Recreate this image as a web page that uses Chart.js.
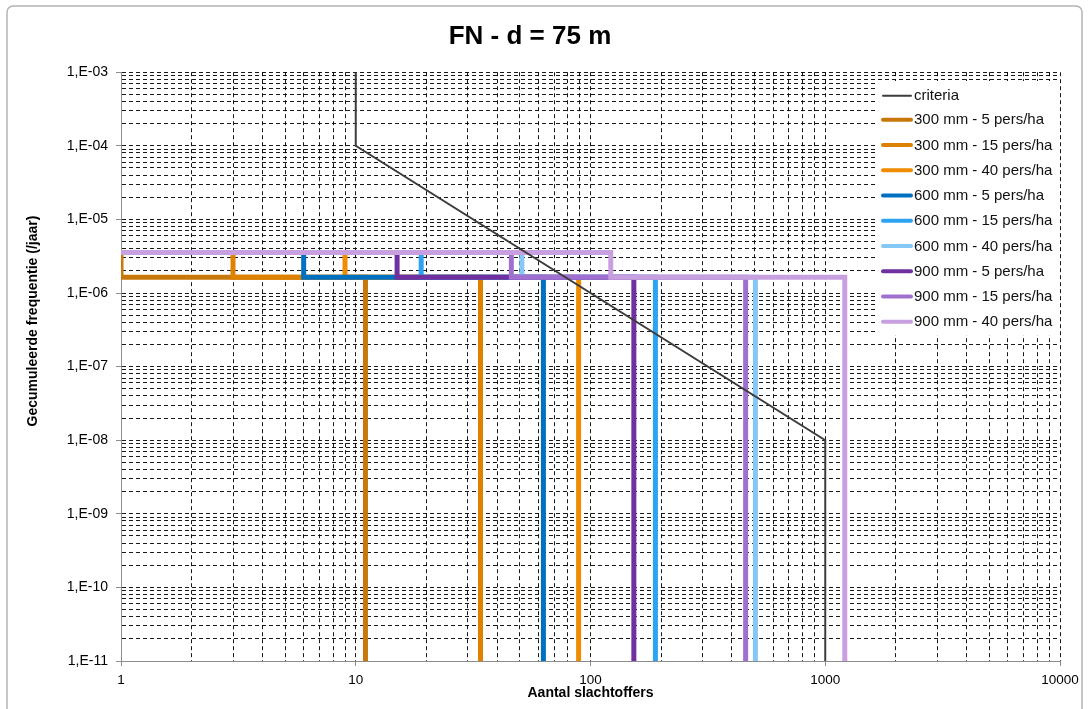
<!DOCTYPE html>
<html>
<head>
<meta charset="utf-8">
<script src="https://cdn.jsdelivr.net/npm/chart.js@4.4.0/dist/chart.umd.min.js"></script>
<style>
html,body{margin:0;padding:0;background:#fff;}
canvas{display:block;}
</style>
</head>
<body>
<canvas id="c" width="1089" height="709"></canvas>
<script>
// ---- texts ----
const chartTitle = 'FN - d = 75 m';
const xAxisTitle = 'Aantal slachtoffers';
const yAxisTitle = 'Gecumuleerde frequentie (/jaar)';

// ---- tick labels ----
const xTickValues = [1, 10, 100, 1000, 10000];
const xTickLabels = ['1', '10', '100', '1000', '10000'];
const yTickValues = [1e-11, 1e-10, 1e-9, 1e-8, 1e-7, 1e-6, 1e-5, 1e-4, 1e-3];
const yTickLabels = ['1,E-11', '1,E-10', '1,E-09', '1,E-08', '1,E-07', '1,E-06', '1,E-05', '1,E-04', '1,E-03'];

// ---- criteria line ----
const criteriaLabel = 'criteria';
const criteriaN = [10, 10, 1000, 1000];
const criteriaF = [1e-3, 1e-4, 1e-8, 1e-11];

// ---- FN step series ----
const seriesLabels = [
  '300 mm - 5 pers/ha', '300 mm - 15 pers/ha', '300 mm - 40 pers/ha',
  '600 mm - 5 pers/ha', '600 mm - 15 pers/ha', '600 mm - 40 pers/ha',
  '900 mm - 5 pers/ha', '900 mm - 15 pers/ha', '900 mm - 40 pers/ha'
];
const seriesNStart = [1, 1, 1, 1, 1, 1, 1, 1, 1];
const seriesNStep  = [1, 3, 9, 6, 19, 51, 15, 46, 122];
const seriesNMax   = [11, 34, 89, 63, 189, 504, 153, 458, 1211];
const seriesFHigh  = [3.55e-6, 3.55e-6, 3.55e-6, 3.55e-6, 3.55e-6, 3.55e-6, 3.55e-6, 3.55e-6, 3.55e-6];
const seriesFLow   = [1.64e-6, 1.64e-6, 1.64e-6, 1.64e-6, 1.64e-6, 1.64e-6, 1.64e-6, 1.64e-6, 1.64e-6];
const seriesFEnd   = [1e-11, 1e-11, 1e-11, 1e-11, 1e-11, 1e-11, 1e-11, 1e-11, 1e-11];

// ---- styles ----
const seriesColors = ['#C8780A', '#DC8200', '#F08C00', '#0070C0', '#2EA3F2', '#85C8F5', '#7030A0', '#A070D0', '#C8A0E0'];
const criteriaColor = '#3C3C3C';
const FONT = '"Liberation Sans", Arial, sans-serif';

Chart.defaults.font.family = FONT;
Chart.defaults.color = '#000';

function isMajor(v) {
  const l = Math.log10(v);
  return Math.abs(l - Math.round(l)) < 1e-9;
}
function labelFor(v, vals, labs) {
  for (let i = 0; i < vals.length; i++) {
    if (Math.abs(Math.log10(v) - Math.log10(vals[i])) < 1e-9) return labs[i];
  }
  return '';
}
function gridTicks(vals) {
  const out = [];
  for (let i = 0; i < vals.length; i++) {
    out.push({ value: vals[i], major: true });
    if (i < vals.length - 1) {
      for (let m = 2; m <= 9; m++) out.push({ value: vals[i] * m, major: false });
    }
  }
  return out;
}

const datasets = [];
datasets.push({
  label: criteriaLabel,
  data: criteriaN.map((n, i) => ({ x: n, y: criteriaF[i] })),
  borderColor: criteriaColor,
  borderWidth: 2,
  order: 0
});
seriesLabels.forEach((lab, i) => {
  datasets.push({
    label: lab,
    data: [
      { x: seriesNStart[i], y: seriesFHigh[i] },
      { x: seriesNStep[i], y: seriesFHigh[i] },
      { x: seriesNStep[i], y: seriesFLow[i] },
      { x: seriesNMax[i], y: seriesFLow[i] },
      { x: seriesNMax[i], y: seriesFEnd[i] }
    ],
    borderColor: seriesColors[i],
    borderWidth: 5,
    order: 10 - i
  });
});

const decor = {
  id: 'decor',
  afterDraw(chart) {
    const ctx = chart.ctx;
    ctx.save();
    // outer frame
    ctx.strokeStyle = '#b4b4b4';
    ctx.lineWidth = 1.5;
    ctx.beginPath();
    if (ctx.roundRect) ctx.roundRect(7, 6, 1075, 720, 6); else ctx.rect(7, 6, 1075, 720);
    ctx.stroke();
    // y axis title
    ctx.save();
    ctx.translate(33, 321);
    ctx.rotate(-Math.PI / 2);
    ctx.font = 'bold 14px ' + FONT;
    ctx.fillStyle = '#000';
    ctx.textAlign = 'center';
    ctx.textBaseline = 'middle';
    ctx.fillText(yAxisTitle, 0, 0);
    ctx.restore();
    // legend
    ctx.fillStyle = '#fff';
    ctx.fillRect(876, 81, 181, 254);
    const items = [{ label: criteriaLabel, color: criteriaColor, w: 2 }]
      .concat(seriesLabels.map((l, i) => ({ label: l, color: seriesColors[i], w: 4 })));
    ctx.font = '15px ' + FONT;
    ctx.textAlign = 'left';
    ctx.textBaseline = 'middle';
    items.forEach((it, i) => {
      const y = i === 0 ? 95.7 : 119.7 + (i - 1) * 25.25;
      ctx.strokeStyle = it.color;
      ctx.lineWidth = it.w;
      ctx.lineCap = 'round';
      ctx.beginPath();
      ctx.moveTo(883, y);
      ctx.lineTo(911, y);
      ctx.stroke();
      ctx.fillStyle = '#111';
      ctx.fillText(it.label, 914, y + 0.5);
    });
    ctx.restore();
  }
};

const gridCommon = {
  color: 'rgba(0,0,0,0.9)',
  lineWidth: 1,
  tickLength: 5,
  tickWidth: 1,
  tickColor: (c) => (c.tick && isMajor(c.tick.value)) ? '#8c8c8c' : 'rgba(0,0,0,0)',
  tickBorderDash: []
};
const borderCommon = { display: true, color: '#8c8c8c', width: 1, dash: [4, 3] };

new Chart(document.getElementById('c'), {
  type: 'line',
  data: { datasets },
  options: {
    responsive: false,
    animation: false,
    devicePixelRatio: 1,
    clip: 0,
    layout: { padding: { left: 0, right: 29, top: 0, bottom: 0 } },
    elements: {
      point: { radius: 0, hoverRadius: 0 },
      line: { tension: 0, fill: false, borderCapStyle: 'butt', borderJoinStyle: 'miter' }
    },
    plugins: {
      legend: { display: false },
      tooltip: { enabled: false },
      title: {
        display: true,
        text: chartTitle,
        color: '#000',
        font: { size: 26, weight: 'bold', family: FONT },
        padding: { top: 21, bottom: 20 }
      }
    },
    scales: {
      x: {
        type: 'logarithmic',
        position: 'bottom',
        min: xTickValues[0],
        max: xTickValues[xTickValues.length - 1],
        afterBuildTicks: (s) => { s.ticks = gridTicks(xTickValues); },
        afterFit: (s) => { s.height = 48; },
        ticks: {
          autoSkip: false, maxRotation: 0, minRotation: 0, padding: 6,
          color: '#000', font: { size: 13.5 },
          callback: (v) => labelFor(v, xTickValues, xTickLabels)
        },
        grid: gridCommon,
        border: borderCommon,
        title: {
          display: true, text: xAxisTitle, color: '#000',
          font: { size: 14, weight: 'bold' },
          padding: { top: 0, bottom: 7 }
        }
      },
      y: {
        type: 'logarithmic',
        position: 'left',
        min: yTickValues[0],
        max: yTickValues[yTickValues.length - 1],
        afterBuildTicks: (s) => { s.ticks = gridTicks(yTickValues); },
        afterFit: (s) => { s.width = 121; },
        ticks: {
          autoSkip: false, padding: 8,
          color: '#000', font: { size: 14 },
          callback: (v) => labelFor(v, yTickValues, yTickLabels)
        },
        grid: gridCommon,
        border: borderCommon,
        title: { display: false }
      }
    }
  },
  plugins: [decor]
});
</script>
</body>
</html>
